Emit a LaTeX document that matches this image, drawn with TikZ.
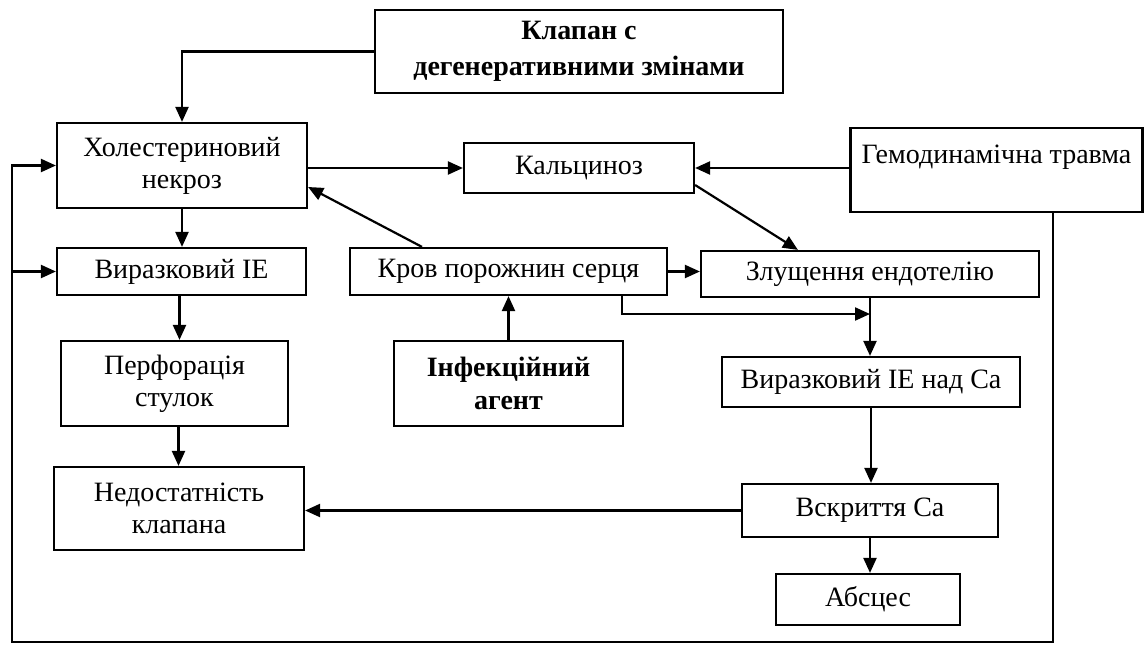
\documentclass[tikz,border=0pt]{standalone}
\usepackage{fontspec}
\setmainfont{Liberation Serif}
\usetikzlibrary{arrows.meta,calc}
\tikzset{
  box/.style={draw, line width=2.2pt, inner sep=0pt, align=center, font=\fontsize{28}{32}\selectfont},
  bbox/.style={box, font=\fontsize{28}{36}\selectfont\bfseries},
  arr/.style={line width=2.2pt, -{Triangle[length=15pt,width=13pt]}}
}
\begin{document}
\begin{tikzpicture}[x=1pt,y=-1pt]
\useasboundingbox (0,0) rectangle (1146,645);
% boxes
\node[bbox, minimum width=408pt, minimum height=83pt] (klapan) at (579,51.5) {Клапан с\\дегенеративними змінами};
\node[box, minimum width=250pt, minimum height=85pt] (holest) at (182,165.5) {Холестериновий\\некроз};
\node[box, minimum width=230pt, minimum height=50pt] (kalc) at (579,168) {Кальциноз};
\node[box, minimum width=292pt, minimum height=84pt] (gemo) at (996.5,170) {Гемодинамічна травма\\\mbox{}};
\node[box, minimum width=249pt, minimum height=47pt] (vyraz) at (181.5,271.5) {Виразковий IE};
\node[box, minimum width=317pt, minimum height=47pt] (krov) at (508.5,271.5) {Кров порожнин серця};
\node[box, minimum width=338pt, minimum height=46pt] (zlush) at (870,274) {Злущення ендотелію};
\node[box, minimum width=227pt, minimum height=85pt] (perf) at (174.5,383.5) {Перфорація\\стулок};
\node[bbox, font=\fontsize{28}{33}\selectfont\bfseries, minimum width=229pt, minimum height=85pt] (infek) at (508.5,383.5) {Інфекційний\\агент};
\node[box, minimum width=298pt, minimum height=50pt] (vienad) at (871,382) {Виразковий IE над Са};
\node[box, minimum width=250pt, minimum height=83pt] (nedost) at (179,508.5) {Недостатність\\клапана};
\node[box, minimum width=256pt, minimum height=53pt] (vskr) at (870,510.5) {Вскриття Са};
\node[box, minimum width=184pt, minimum height=51pt] (abs) at (868,599.5) {Абсцес};
% coordinates
\coordinate (j) at (870,314);
\coordinate (br) at (1053,642);
\coordinate (bl) at (12,642);
% connectors
\draw[arr] (klapan.west) -| (holest.north);
\draw[arr] (kalc.west -| holest.east) -- (kalc.west);
\draw[arr] (gemo.west |- kalc.east) -- (kalc.east);
\draw[arr] ([yshift=-17pt]kalc.east) -- ([xshift=98pt]zlush.north west);
\draw[arr] (holest.south) -- (holest.south |- vyraz.north);
\draw[arr] ([xshift=-86.5pt]krov.north) -- ([yshift=-21.5pt]holest.east);
\draw[arr] (krov.east) -- (krov.east -| zlush.west);
\draw[arr] (infek.north) -- (krov.south);
\draw[arr] ([xshift=113.5pt]krov.south) |- (j);
\draw[arr] (zlush.south) -- (zlush.south |- vienad.north);
\draw[arr] (vienad.south) -- (vienad.south |- vskr.north);
\draw[arr] (vskr.west) -- (vskr.west -| nedost.east);
\draw[arr] (vskr.south) -- (vskr.south |- abs.north);
\draw[arr] ([xshift=-2pt]vyraz.south) -- ([xshift=-2pt]vyraz.south |- perf.north);
\draw[arr] ([xshift=4pt]perf.south) -- ([xshift=4pt]perf.south |- nedost.north);
\draw[arr] ([xshift=56.5pt]gemo.south) -- (br) -- (bl) |- (holest.west);
\draw[arr] (bl |- vyraz.west) -- (vyraz.west);
\end{tikzpicture}
\end{document}
